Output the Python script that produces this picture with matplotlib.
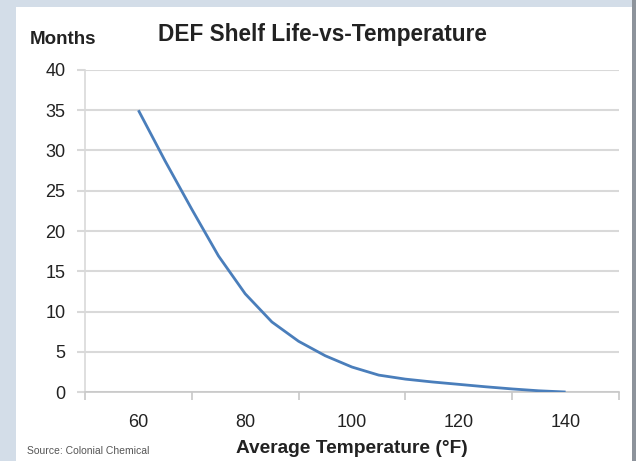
import matplotlib
matplotlib.use('Agg')
import matplotlib.pyplot as plt
from matplotlib.patches import Rectangle

temperature = [60, 65, 70, 75, 80, 85, 90, 95, 100, 105, 110, 115, 120, 125, 130, 135, 140]
months = [35, 28.7, 22.7, 16.9, 12.2, 8.7, 6.3, 4.5, 3.1, 2.1, 1.6, 1.25, 0.95, 0.65, 0.38, 0.15, 0.0]

x_labels = [60, 80, 100, 120, 140]
x_marks = [50, 70, 90, 110, 130, 150]
y_ticks = [0, 5, 10, 15, 20, 25, 30, 35, 40]

plt.rcParams['font.family'] = ['Liberation Sans', 'DejaVu Sans']


def do_plot():
    W, H = 636, 461
    f = plt.figure(figsize=(W / 100, H / 100), dpi=100, facecolor='#d3dde8')
    # white panel and dark right edge of the frame
    f.patches.append(Rectangle((16 / W, 0), (632 - 16) / W, (H - 7) / H,
                               transform=f.transFigure, facecolor='white', edgecolor='none', zorder=0))
    f.patches.append(Rectangle((632 / W, 0), 4 / W, 1, transform=f.transFigure,
                               facecolor='#8d939b', edgecolor='none', zorder=0))

    ax = f.add_axes([85 / W, (H - 392) / H, (619 - 85) / W, (392 - 70) / H], zorder=2)
    ax.set_facecolor('none')
    ax.plot(temperature, months, '-', color='#4a7ebb', lw=2, solid_capstyle='butt',
            solid_joinstyle='round', zorder=3)

    ax.set_xlim(50, 150)
    ax.set_ylim(0, 40)
    ax.set_yticks(y_ticks)
    ax.set_xticks(x_marks)
    ax.set_xticklabels([])
    ax.set_xticks(x_labels, minor=True)
    ax.set_xticklabels([str(v) for v in x_labels], minor=True)
    ax.tick_params(axis='x', which='minor', length=0, pad=16, labelsize=13, labelcolor='#222222')
    ax.tick_params(axis='x', which='major', length=6, width=1.2, color='#c8c8c8', direction='out')
    ax.tick_params(axis='y', length=6, width=1.5, color='#d9d9d9', direction='out',
                   labelsize=13, labelcolor='#222222', pad=8)
    ax.grid(axis='y', color='#d9d9d9', lw=1.5)
    ax.set_axisbelow(True)
    for s in ['top', 'right']:
        ax.spines[s].set_visible(False)
    ax.spines['left'].set_color('#d9d9d9')
    ax.spines['left'].set_linewidth(1.2)
    ax.spines['bottom'].set_color('#c8c8c8')
    ax.spines['bottom'].set_linewidth(1.2)

    f.text(322 / W, 1 - 35 / H, 'DEF Shelf Life-vs-Temperature', ha='center', va='center',
           fontsize=16.3, fontweight='bold', color='#222222')
    f.text(30 / W, 1 - 40 / H, 'Months', ha='left', va='center',
           fontsize=13.5, fontweight='bold', color='#222222')
    f.text(352 / W, 1 - 448 / H, 'Average Temperature (°F)', ha='center', va='center',
           fontsize=13.8, fontweight='bold', color='#222222')
    f.text(27 / W, 1 - 451 / H, 'Source: Colonial Chemical', ha='left', va='center',
           fontsize=7.5, color='#555555')

    f.savefig('out.png', dpi=100, facecolor=f.get_facecolor())


if __name__ == '__main__':
    do_plot()
